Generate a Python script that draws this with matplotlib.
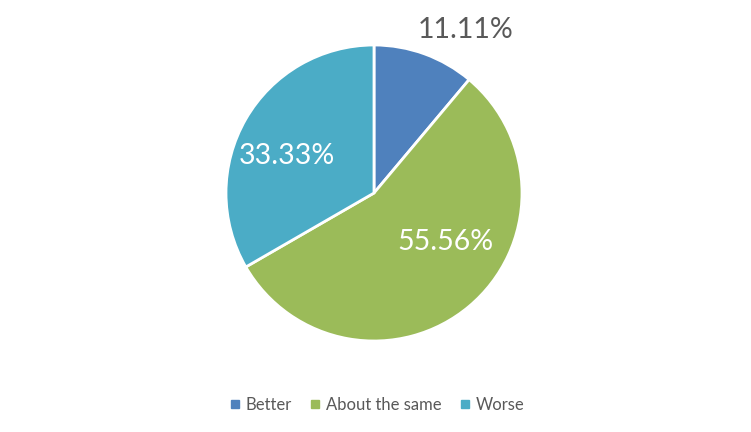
import matplotlib.pyplot as plt
from matplotlib.lines import Line2D

categories = ["Better", "About the same", "Worse"]
values = [11.11, 55.56, 33.33]
colors = ["#4F81BD", "#9BBB59", "#4BACC6"]

plt.rcParams['font.family'] = ['Lato', 'DejaVu Sans']

fig = plt.figure(figsize=(7.51, 4.32), dpi=100)
ax = fig.add_axes([226 / 751, (432 - 341) / 432, 296 / 751, 296 / 432])

wedges, _ = ax.pie(values, colors=colors, startangle=90, counterclock=False,
                   radius=1, wedgeprops=dict(edgecolor="white", linewidth=2))
ax.set_xlim(-1.0, 1.0)
ax.set_ylim(-1.0, 1.0)
ax.set_aspect("equal")

# label positions (data coords)
label_pos = [(0.62, 1.10), (0.48, -0.33), (-0.59, 0.25)]
label_col = ["#595959", "white", "white"]
for v, (x, y), c in zip(values, label_pos, label_col):
    ax.text(x, y, f"{v:.2f}%", ha="center", va="center", fontsize=20.5, color=c)

handles = [Line2D([], [], marker="s", linestyle="", markersize=6, color=c) for c in colors]
fig.legend(handles, categories, loc="center", bbox_to_anchor=(0.50, 1 - 405 / 432),
           ncol=3, frameon=False, fontsize=12, labelcolor="#595959",
           handletextpad=0.15, columnspacing=0.9, handlelength=1.0)

fig.savefig("out.png", dpi=100)
